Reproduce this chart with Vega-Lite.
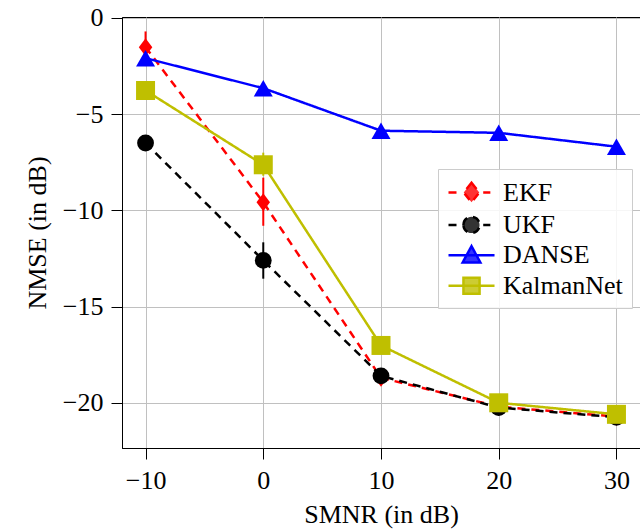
{
  "$schema": "https://vega.github.io/schema/vega-lite/v6.json",
  "width": 518,
  "height": 431,
  "autosize": {"type": "none"},
  "padding": {"left": 122, "top": 17, "right": 0, "bottom": 81},
  "background": "white",
  "config": {
    "font": "Liberation Serif",
    "view": {"stroke": "black", "strokeWidth": 1},
    "axis": {
      "gridColor": "#c0c0c0",
      "gridOpacity": 1,
      "gridWidth": 1,
      "domainColor": "black",
      "domainWidth": 1,
      "tickColor": "black",
      "tickSize": 11,
      "tickWidth": 1,
      "labelFont": "Liberation Serif",
      "labelFontSize": 26,
      "labelColor": "black",
      "labelPadding": 8,
      "titleFont": "Liberation Serif",
      "titleFontSize": 26,
      "titleFontWeight": "normal",
      "titleColor": "black"
    },
    "text": {"font": "Liberation Serif"},
    "legend": {"labelFont": "Liberation Serif, Times New Roman, serif"}
  },
  "data": {
    "values": [
      {"snr": -10, "method": "EKF", "nmse": -1.52, "lo": -2.5, "hi": -0.7},
      {"snr": 0, "method": "EKF", "nmse": -9.58, "lo": -10.8, "hi": -8.3},
      {"snr": 10, "method": "EKF", "nmse": -18.7},
      {"snr": 20, "method": "EKF", "nmse": -20.2},
      {"snr": 30, "method": "EKF", "nmse": -20.72},
      {"snr": -10, "method": "UKF", "nmse": -6.5},
      {"snr": 0, "method": "UKF", "nmse": -12.6, "lo": -13.55, "hi": -11.66},
      {"snr": 10, "method": "UKF", "nmse": -18.6},
      {"snr": 20, "method": "UKF", "nmse": -20.25},
      {"snr": 30, "method": "UKF", "nmse": -20.75},
      {"snr": -10, "method": "DANSE", "nmse": -2.09},
      {"snr": 0, "method": "DANSE", "nmse": -3.65},
      {"snr": 10, "method": "DANSE", "nmse": -5.86},
      {"snr": 20, "method": "DANSE", "nmse": -5.97},
      {"snr": 30, "method": "DANSE", "nmse": -6.69},
      {"snr": -10, "method": "KalmanNet", "nmse": -3.77},
      {"snr": 0, "method": "KalmanNet", "nmse": -7.63, "lo": -8.2, "hi": -7.0},
      {"snr": 10, "method": "KalmanNet", "nmse": -17.02},
      {"snr": 20, "method": "KalmanNet", "nmse": -20.0},
      {"snr": 30, "method": "KalmanNet", "nmse": -20.6}
    ]
  },
  "layer": [
    {
      "transform": [{"filter": "isValid(datum.lo)"}],
      "mark": {"type": "rule", "strokeWidth": 2},
      "encoding": {
        "x": {
          "field": "snr", "type": "quantitative",
          "scale": {"domain": [-12, 32], "nice": false, "zero": false},
          "axis": {"values": [-10, 0, 10, 20, 30], "title": "SMNR (in dB)", "titlePadding": 8}
        },
        "y": {
          "field": "lo", "type": "quantitative",
          "scale": {"domain": [-22.35, 0.05], "nice": false, "zero": false},
          "axis": {"values": [0, -5, -10, -15, -20], "title": "NMSE (in dB)", "titlePadding": 12}
        },
        "y2": {"field": "hi"},
        "color": {
          "field": "method", "type": "nominal",
          "scale": {"domain": ["EKF", "UKF", "DANSE", "KalmanNet"], "range": ["#ff0000", "#000000", "#0000ff", "#bfbf00"]},
          "legend": {
            "title": null,
            "orient": "none",
            "legendX": 316,
            "legendY": 152,
            "fillColor": "rgba(255,255,255,0.85)",
            "strokeColor": "#cccccc",
            "padding": 9,
            "labelFont": "Liberation Serif, Times New Roman, serif",
            "labelFontSize": 26,
            "labelFontWeight": "normal",
            "labelColor": "black",
            "labelOffset": 27,
            "rowPadding": 2.4,
            "symbolSize": 676,
            "encode": {
              "symbols": {
                "update": {
                  "shape": {"signal": "datum.value == 'EKF' ? 'M-1,0H-0.38M1.67,0H2.22M0.77,-0.75L1.37,0L0.77,0.75L0.17,0Z' : datum.value == 'UKF' ? 'M-1,0H-0.38M1.67,0H2.22M0.15,0A0.62,0.62,0,1,1,1.39,0A0.62,0.62,0,1,1,0.15,0Z' : datum.value == 'DANSE' ? 'M-1,0H2.54M0.77,-0.7L1.45,0.55L0.09,0.55Z' : 'M-1,0H2.54M0.15,-0.62H1.39V0.62H0.15Z'"},
                  "size": {"value": 676},
                  "strokeWidth": {"value": 2.5},
                  "stroke": {"scale": "color", "field": "value"},
                  "fill": {"scale": "color", "field": "value"},
                  "fillOpacity": {"value": 0.8},
                  "strokeDash": {"value": [1, 0]},
                  "opacity": {"value": 1}
                }
              }
            }
          }
        }
      }
    },
    {
      "mark": {"type": "line", "strokeWidth": 2.5},
      "encoding": {
        "x": {"field": "snr", "type": "quantitative"},
        "y": {"field": "nmse", "type": "quantitative"},
        "color": {"field": "method", "type": "nominal"},
        "strokeDash": {
          "field": "method", "type": "nominal",
          "scale": {"domain": ["EKF", "UKF", "DANSE", "KalmanNet"], "range": [[8, 6], [8, 6], [1, 0], [1, 0]]},
          "legend": null
        }
      }
    },
    {
      "transform": [{"filter": "datum.method == 'EKF'"}],
      "mark": {"type": "point", "filled": true, "opacity": 1, "color": "#ff0000", "shape": "M0,-1L0.75,0L0,1L-0.75,0Z", "size": 324},
      "encoding": {
        "x": {"field": "snr", "type": "quantitative"},
        "y": {"field": "nmse", "type": "quantitative"}
      }
    },
    {
      "transform": [{"filter": "datum.method == 'UKF'"}],
      "mark": {"type": "point", "filled": true, "opacity": 1, "color": "#000000", "shape": "circle", "size": 283},
      "encoding": {
        "x": {"field": "snr", "type": "quantitative"},
        "y": {"field": "nmse", "type": "quantitative"}
      }
    },
    {
      "transform": [{"filter": "datum.method == 'DANSE'"}],
      "mark": {"type": "point", "filled": true, "opacity": 1, "color": "#0000ff", "shape": "triangle-up", "size": 361},
      "encoding": {
        "x": {"field": "snr", "type": "quantitative"},
        "y": {"field": "nmse", "type": "quantitative"}
      }
    },
    {
      "transform": [{"filter": "datum.method == 'KalmanNet'"}],
      "mark": {"type": "point", "filled": true, "opacity": 1, "color": "#bfbf00", "shape": "square", "size": 361},
      "encoding": {
        "x": {"field": "snr", "type": "quantitative"},
        "y": {"field": "nmse", "type": "quantitative"}
      }
    }
  ]
}
